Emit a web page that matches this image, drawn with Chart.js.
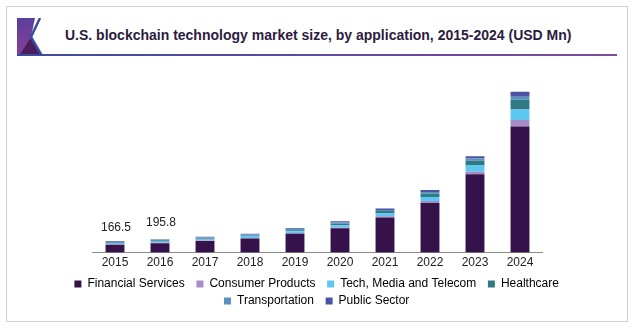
<!DOCTYPE html>
<html>
<head>
<meta charset="utf-8">
<script src="https://cdn.jsdelivr.net/npm/chart.js@4/dist/chart.umd.min.js"></script>
<style>
  html, body { margin: 0; padding: 0; background: #fff; }
  body { width: 636px; height: 329px; position: relative; overflow: hidden; font-family: "Liberation Sans", Arial, sans-serif; }
  .frame { position: absolute; left: 6px; top: 6px; width: 622px; height: 316px; border: 1px solid #cfcfcf; box-sizing: border-box; }
  .badge { position: absolute; left: 17px; top: 18px; }
  .rule { position: absolute; left: 17px; top: 54px; width: 600px; height: 2px; background: linear-gradient(to right, #3a4ca0, #5a4aa0 40%, #7d4b9c); }
  .title { position: absolute; left: 65px; top: 27px; font-weight: bold; font-size: 14px; color: #2b1c40; white-space: nowrap; }
  .wrap { position: absolute; left: 60px; top: 70px; width: 520px; height: 247px; }
</style>
</head>
<body>
<div class="frame"></div>
<svg class="badge" width="28" height="38" viewBox="0 0 28 38">
  <defs>
    <linearGradient id="bg" x1="0" y1="0" x2="0" y2="1">
      <stop offset="0" stop-color="#5b3f9c"/>
      <stop offset="1" stop-color="#8a3f98"/>
    </linearGradient>
  </defs>
  <rect x="0" y="0" width="24" height="38" fill="url(#bg)"/>
  <polygon points="14,19 24,38 2,38" fill="#4a1d5c"/>
  <polygon points="18,0 28,0 28,38 26,38 14,19" fill="#fff"/>
  <polyline points="23,0 14,19 25,38" fill="none" stroke="#3a4ca0" stroke-width="2.5"/>
</svg>
<div class="title">U.S. blockchain technology market size, by application, 2015-2024 (USD Mn)</div>
<div class="rule"></div>
<div class="wrap"><canvas id="chart"></canvas></div>
<script>
const years = ['2015', '2016', '2017', '2018', '2019', '2020', '2021', '2022', '2023', '2024'];

// segment values per application, bottom to top
const financial  = [118.0, 140.0, 172, 210, 280, 360, 520, 735, 1160, 1870];
const consumer   = [4.5, 5.2, 6, 8, 10, 12, 20, 30, 40, 95];
const techMedia  = [12.0, 14.5, 17, 20, 26, 35, 40, 60, 90, 158];
const healthcare = [8.0, 9.6, 11, 13, 17, 25, 35, 50, 75, 142];
const transport  = [15.0, 16.5, 19, 18, 19, 15, 15, 25, 30, 45];
const publicSec  = [9.0, 10.0, 11, 12, 14, 18, 25, 30, 35, 75];

// which years get a total printed above the bar, and how far above (px)
const labelledYears = ['2015', '2016'];
const labelGap = [8, 11];

const series = [
  { label: 'Financial Services', data: financial, color: '#36124a' },
  { label: 'Consumer Products', data: consumer, color: '#a68dc8' },
  { label: 'Tech, Media and Telecom', data: techMedia, color: '#5cc8f2' },
  { label: 'Healthcare', data: healthcare, color: '#2f7a84' },
  { label: 'Transportation', data: transport, color: '#5b92c4' },
  { label: 'Public Sector', data: publicSec, color: '#4b54a3' }
];

// totals above selected bars, taken from the stacked segments
const totalLabels = {
  id: 'totalLabels',
  afterDatasetsDraw(chart) {
    const ctx = chart.ctx;
    const x = chart.scales.x, y = chart.scales.y;
    ctx.save();
    ctx.font = '12px "Liberation Sans", Arial, sans-serif';
    ctx.fillStyle = '#222';
    ctx.textAlign = 'center';
    ctx.textBaseline = 'bottom';
    labelledYears.forEach((yr, k) => {
      const i = years.indexOf(yr);
      const total = series.reduce((s, d) => s + d.data[i], 0);
      ctx.fillText(total.toFixed(1), x.getPixelForValue(i) + 1, y.getPixelForValue(total) - labelGap[k]);
    });
    ctx.restore();
  }
};

// invisible side axes, only there to hold the plot inside the canvas
const sideAxis = (pos, w) => ({
  type: 'linear', position: pos, display: true,
  grid: { display: false, drawTicks: false }, border: { display: false },
  ticks: { display: false },
  afterFit: s => { s.width = w; }
});

new Chart(document.getElementById('chart'), {
  type: 'bar',
  data: {
    labels: years,
    datasets: series.map(s => ({
      label: s.label,
      data: s.data,
      backgroundColor: s.color,
      borderWidth: 0,
      categoryPercentage: 1,
      barPercentage: 0.42
    }))
  },
  options: {
    responsive: true,
    maintainAspectRatio: false,
    animation: false,
    layout: { padding: { top: 14, bottom: 0 } },
    scales: {
      x: {
        stacked: true,
        grid: { display: false, drawTicks: false },
        border: { display: true, color: '#8a8a8a', width: 1 },
        ticks: { color: '#222', padding: 3, font: { size: 12, family: '"Liberation Sans", Arial, sans-serif' } }
      },
      y: Object.assign(sideAxis('left', 32.5), { stacked: true, min: 0, max: 2500 }),
      yR: sideAxis('right', 37.5)
    },
    plugins: {
      tooltip: { enabled: false },
      legend: {
        position: 'bottom',
        labels: {
          boxWidth: 7,
          boxHeight: 7,
          padding: 5,
          color: '#222',
          font: { size: 12, family: '"Liberation Sans", Arial, sans-serif' },
          generateLabels: chart => series.map((s, i) => ({
            text: s.label + '  ',
            fillStyle: s.color,
            strokeStyle: s.color,
            lineWidth: 0,
            datasetIndex: i,
            hidden: false
          }))
        }
      }
    }
  },
  plugins: [totalLabels]
});
</script>
</body>
</html>
